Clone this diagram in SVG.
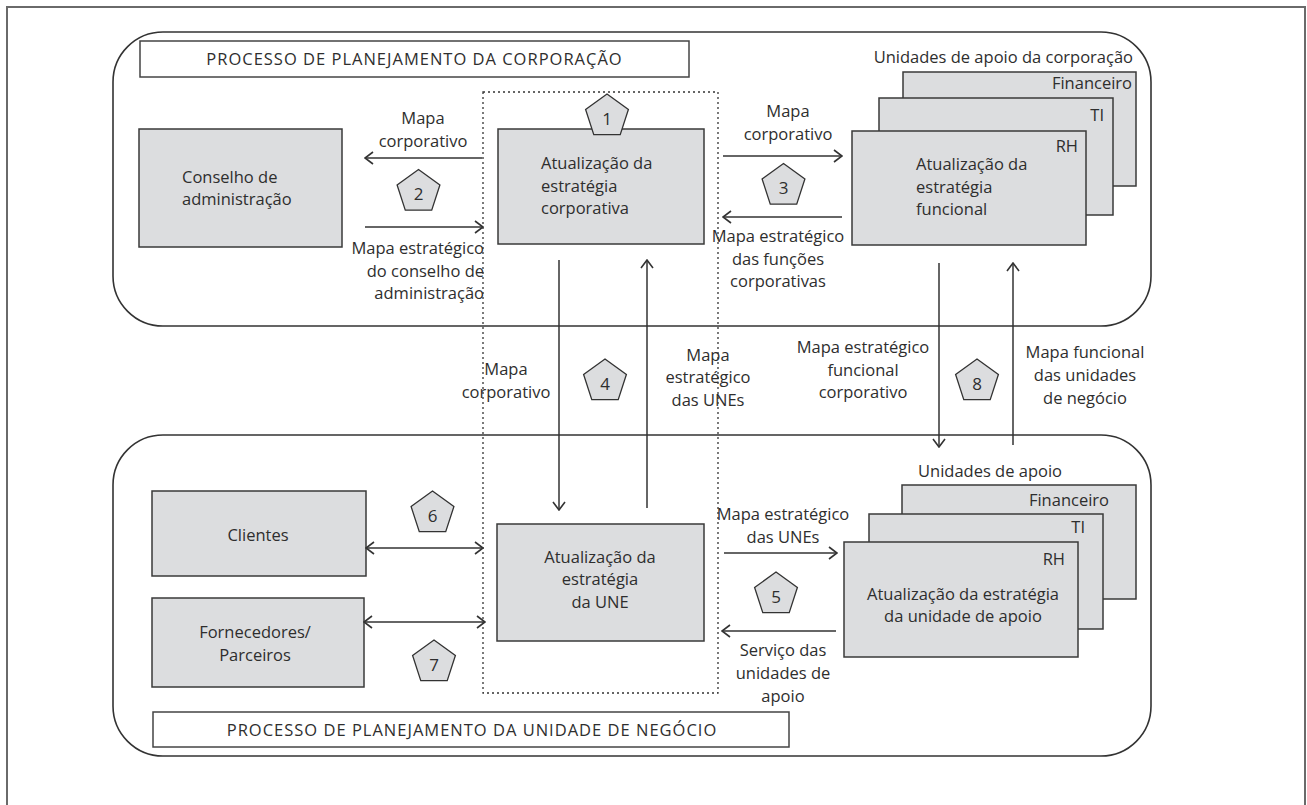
<svg xmlns="http://www.w3.org/2000/svg" width="1307" height="805" viewBox="0 0 1307 805">
<style>
.frame{fill:none;stroke:#6a6a6a;stroke-width:2}
.grp{fill:none;stroke:#333;stroke-width:1.6}
.ttl{fill:#fff;stroke:#444;stroke-width:1.5}
.dot{fill:none;stroke:#333;stroke-width:1.3;stroke-dasharray:2 3}
.box{fill:#dcdddf;stroke:#3a3a3a;stroke-width:1.5}
.pent{fill:#dcdddf;stroke:#333;stroke-width:1.3}
.conn{fill:none;stroke:#333;stroke-width:1.5}
text{font-family:"Open Sans","Noto Sans","Liberation Sans",sans-serif;font-size:16.5px;fill:#2e2e2e}
.c{text-anchor:middle}
.e{text-anchor:end}
.t{font-size:16.5px;letter-spacing:1px}
.n{font-size:17px;text-anchor:middle}
</style>
<defs>
<marker id="ah" viewBox="0 0 10 14" refX="9" refY="7" markerWidth="10" markerHeight="14" markerUnits="userSpaceOnUse" orient="auto-start-reverse">
<path d="M1,1 L9,7 L1,13" fill="none" stroke="#333" stroke-width="1.6"/>
</marker>
<polygon id="pent" points="0,-22.5 21.4,-6.95 13.22,18.2 -13.22,18.2 -21.4,-6.95"/>
</defs>
<rect x="0" y="0" width="1307" height="805" fill="#fff"/>
<rect class="frame" x="7" y="7" width="1298" height="810"/>

<g id="corp-process">
<rect class="grp" x="113" y="32" width="1038" height="294" rx="50" ry="50"/>
<rect class="ttl" x="140" y="41" width="549" height="36"/>
<text class="t c" x="414.5" y="65">PROCESSO DE PLANEJAMENTO DA CORPORAÇÃO</text>
</g>
<g id="une-process">
<rect class="grp" x="113" y="435" width="1038" height="321" rx="50" ry="50"/>
<rect class="ttl" x="153" y="712" width="636" height="35"/>
<text class="t c" x="472" y="735.5">PROCESSO DE PLANEJAMENTO DA UNIDADE DE NEGÓCIO</text>
</g>
<g id="strategy-zone">
<rect class="dot" x="483" y="92" width="235" height="601"/>
</g>

<g id="conselho">
<rect class="box" x="139" y="129" width="203" height="118"/>
<text x="182" y="183">Conselho de</text>
<text x="182" y="205">administração</text>
</g>
<g id="corp-strategy">
<rect class="box" x="498" y="129" width="206" height="115"/>
<text x="541" y="169">Atualização da</text>
<text x="541" y="192">estratégia</text>
<text x="541" y="214">corporativa</text>
</g>
<g id="corp-support">
<text class="e" x="1133" y="63">Unidades de apoio da corporação</text>
<rect class="box" x="903" y="72" width="233" height="114"/>
<text class="e" x="1132" y="89">Financeiro</text>
<rect class="box" x="879" y="98" width="234" height="117"/>
<text class="e" x="1104" y="121">TI</text>
<rect class="box" x="852" y="131" width="234" height="114"/>
<text class="e" x="1078" y="152">RH</text>
<text x="916" y="170">Atualização da</text>
<text x="916" y="193">estratégia</text>
<text x="916" y="215">funcional</text>
</g>
<g id="clientes">
<rect class="box" x="152" y="491" width="214" height="85"/>
<text class="c" x="258" y="541">Clientes</text>
</g>
<g id="fornecedores">
<rect class="box" x="152" y="598" width="212" height="89"/>
<text class="c" x="255" y="638">Fornecedores/</text>
<text class="c" x="255" y="661">Parceiros</text>
</g>
<g id="une-strategy">
<rect class="box" x="497" y="524" width="207" height="117"/>
<text class="c" x="600" y="563">Atualização da</text>
<text class="c" x="600" y="585">estratégia</text>
<text class="c" x="600" y="608">da UNE</text>
</g>
<g id="une-support">
<text x="918" y="477">Unidades de apoio</text>
<rect class="box" x="902" y="485" width="234" height="114"/>
<text class="e" x="1109" y="506">Financeiro</text>
<rect class="box" x="869" y="514" width="234" height="115"/>
<text class="e" x="1085" y="533">TI</text>
<rect class="box" x="844" y="542" width="234" height="115"/>
<text class="e" x="1065" y="565">RH</text>
<text class="c" x="963" y="600">Atualização da estratégia</text>
<text class="c" x="963" y="622">da unidade de apoio</text>
</g>

<g id="badges">
<use href="#pent" class="pent" x="607" y="116.5"/><text class="n" x="607" y="124.5">1</text>
<use href="#pent" class="pent" x="418.5" y="192"/><text class="n" x="418.5" y="200">2</text>
<use href="#pent" class="pent" x="783.5" y="186"/><text class="n" x="783.5" y="194">3</text>
<use href="#pent" class="pent" x="605" y="381.5"/><text class="n" x="605" y="389.5">4</text>
<use href="#pent" class="pent" x="776" y="594.5"/><text class="n" x="776" y="602.5">5</text>
<use href="#pent" class="pent" x="432.5" y="513.5"/><text class="n" x="432.5" y="521.5">6</text>
<use href="#pent" class="pent" x="434" y="662.5"/><text class="n" x="434" y="670.5">7</text>
<use href="#pent" class="pent" x="977" y="381.5"/><text class="n" x="977" y="389.5">8</text>
</g>

<g id="connectors">
<line class="conn" x1="482" y1="158" x2="365" y2="158" marker-end="url(#ah)"/>
<line class="conn" x1="365" y1="227" x2="483" y2="227" marker-end="url(#ah)"/>
<line class="conn" x1="723" y1="156" x2="842" y2="156" marker-end="url(#ah)"/>
<line class="conn" x1="842" y1="217" x2="723" y2="217" marker-end="url(#ah)"/>
<line class="conn" x1="559" y1="260" x2="559" y2="510" marker-end="url(#ah)"/>
<line class="conn" x1="647" y1="508" x2="647" y2="260" marker-end="url(#ah)"/>
<line class="conn" x1="939" y1="263" x2="939" y2="447" marker-end="url(#ah)"/>
<line class="conn" x1="1013" y1="445" x2="1013" y2="263" marker-end="url(#ah)"/>
<line class="conn" x1="366" y1="548" x2="483" y2="548" marker-start="url(#ah)" marker-end="url(#ah)"/>
<line class="conn" x1="364" y1="622" x2="485" y2="622" marker-start="url(#ah)" marker-end="url(#ah)"/>
<line class="conn" x1="724" y1="553" x2="837" y2="553" marker-end="url(#ah)"/>
<line class="conn" x1="836" y1="631" x2="722" y2="631" marker-end="url(#ah)"/>
</g>

<g id="connector-labels">
<text class="c" x="423" y="124">Mapa</text>
<text class="c" x="423" y="147">corporativo</text>
<text class="e" x="484" y="254">Mapa estratégico</text>
<text class="e" x="484" y="277">do conselho de</text>
<text class="e" x="484" y="299">administração</text>
<text class="c" x="788" y="117">Mapa</text>
<text class="c" x="788" y="140">corporativo</text>
<text class="c" x="778" y="242">Mapa estratégico</text>
<text class="c" x="778" y="265">das funções</text>
<text class="c" x="778" y="287">corporativas</text>
<text class="c" x="506" y="375">Mapa</text>
<text class="c" x="506" y="398">corporativo</text>
<text class="c" x="708" y="361">Mapa</text>
<text class="c" x="708" y="383">estratégico</text>
<text class="c" x="708" y="406">das UNEs</text>
<text class="c" x="863" y="353">Mapa estratégico</text>
<text class="c" x="863" y="376">funcional</text>
<text class="c" x="863" y="398">corporativo</text>
<text class="c" x="1085" y="358">Mapa funcional</text>
<text class="c" x="1085" y="381">das unidades</text>
<text class="c" x="1085" y="404">de negócio</text>
<text class="c" x="783" y="520">Mapa estratégico</text>
<text class="c" x="783" y="543">das UNEs</text>
<text class="c" x="783" y="656">Serviço das</text>
<text class="c" x="783" y="679">unidades de</text>
<text class="c" x="783" y="702">apoio</text>
</g>
</svg>
